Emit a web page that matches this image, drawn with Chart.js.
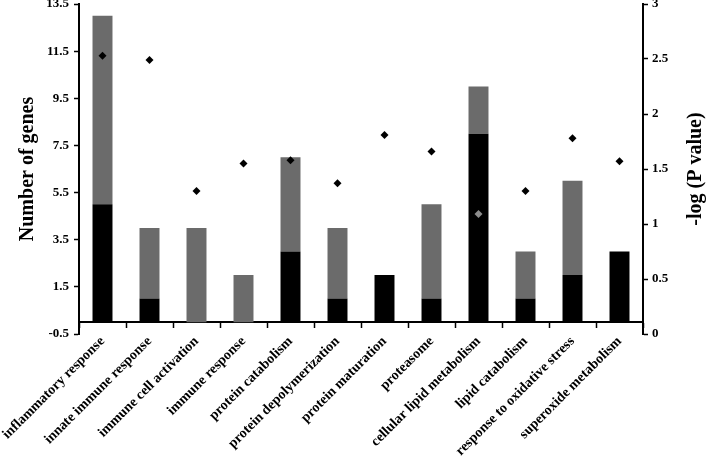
<!DOCTYPE html>
<html>
<head>
<meta charset="utf-8">
<script src="https://cdn.jsdelivr.net/npm/chart.js@4/dist/chart.umd.min.js"></script>
<style>
  html, body { margin: 0; padding: 0; background: #fff; }
  canvas { display: block; }
</style>
</head>
<body>
<canvas id="goChart" width="708" height="462"></canvas>
<script>
// GO terms on the x axis
const categories = [
    "inflammatory response",
    "innate immune response",
    "immune cell activation",
    "immune response",
    "protein catabolism",
    "protein depolymerization",
    "protein maturation",
    "proteasome",
    "cellular lipid metabolism",
    "lipid catabolism",
    "response to oxidative stress",
    "superoxide metabolism"
];

// gene counts, black part (bottom) and grey part (top of the stack)
const blackGenes = [5, 1, 0, 0, 3, 1, 2, 1, 8, 1, 2, 3];
const greyGenes  = [8, 3, 4, 2, 4, 3, 0, 4, 2, 2, 4, 0];

// -log(P value), right axis
const pValues = [2.53, 2.49, 1.30, 1.55, 1.58, 1.37, 1.81, 1.66, 1.09, 1.30, 1.78, 1.57];

// tick labels of the left axis
const leftTicks = [-0.5, 1.5, 3.5, 5.5, 7.5, 9.5, 11.5, 13.5];

const SERIF = "'Liberation Serif', 'Times New Roman', serif";
const greyPointIndex = 8; // the diamond drawn in grey
const rightTitle = "-log (P value)";

const tickFont = { family: SERIF, size: 13, weight: "bold" };

// right axis title reads bottom-to-top like the left one, so draw it ourselves
const rightTitlePlugin = {
    id: "rightTitle",
    afterDraw(chart) {
        const { ctx, chartArea } = chart;
        const y2 = chart.scales.y2;
        ctx.save();
        ctx.translate(y2.right - 12, (chartArea.top + chartArea.bottom) / 2);
        ctx.rotate(-Math.PI / 2);
        ctx.font = "bold 20px " + SERIF;
        ctx.fillStyle = "#000";
        ctx.textAlign = "center";
        ctx.textBaseline = "middle";
        ctx.fillText(rightTitle, 0, 0);
        ctx.restore();
    }
};

const canvas = document.getElementById("goChart");

new Chart(canvas, {
    type: "bar",
    data: {
        labels: categories,
        datasets: [
            {
                type: "line",
                label: rightTitle,
                data: pValues,
                yAxisID: "y2",
                showLine: false,
                pointStyle: "rectRot",
                pointRadius: 4,
                pointBorderWidth: 0,
                pointBackgroundColor: pValues.map((v, i) => i === greyPointIndex ? "#8c8c8c" : "#000"),
                order: 0
            },
            {
                label: "black",
                data: blackGenes,
                backgroundColor: "#000",
                yAxisID: "y",
                stack: "genes",
                order: 1
            },
            {
                label: "grey",
                data: greyGenes,
                backgroundColor: "#6b6b6b",
                yAxisID: "y",
                stack: "genes",
                order: 1
            }
        ]
    },
    options: {
        responsive: false,
        animation: false,
        layout: { padding: { left: 0, right: 0, top: 0, bottom: 128 } },
        datasets: {
            bar: { categoryPercentage: 1, barPercentage: 0.425 }
        },
        plugins: {
            legend: { display: false },
            tooltip: { enabled: false }
        },
        scales: {
            x: {
                stacked: true,
                position: { y: 0 },
                border: { display: true, color: "#000", width: 2 },
                grid: {
                    display: true,
                    offset: true,
                    drawOnChartArea: false,
                    drawTicks: true,
                    tickLength: 5,
                    tickWidth: 1.5,
                    tickColor: "#000"
                },
                ticks: {
                    autoSkip: false,
                    minRotation: 45,
                    maxRotation: 45,
                    padding: 6,
                    color: "#000",
                    font: { family: SERIF, size: 14, weight: "bold" }
                },
                afterFit: s => {
                    s.paddingLeft = 0;
                    s.paddingRight = 0;
                    s.paddingTop = 0;
                    s.paddingBottom = 0;
                }
            },
            y: {
                type: "linear",
                position: "left",
                stacked: true,
                min: -0.5,
                max: 13.5,
                afterBuildTicks: s => { s.ticks = leftTicks.map(v => ({ value: v })); },
                border: { display: true, color: "#000", width: 2 },
                grid: {
                    display: true,
                    drawOnChartArea: false,
                    drawTicks: true,
                    tickLength: 5,
                    tickWidth: 1.5,
                    tickColor: "#000"
                },
                ticks: { color: "#000", padding: 5, font: tickFont },
                title: {
                    display: true,
                    text: "Number of genes",
                    color: "#000",
                    padding: { top: 16, bottom: 0 },
                    font: { family: SERIF, size: 20, weight: "bold" }
                },
                afterFit: s => {
                    s.width = 79;
                    s.paddingTop = 4;
                    s.paddingBottom = 0;
                }
            },
            y2: {
                type: "linear",
                position: "right",
                stacked: false,
                min: 0,
                max: 3,
                ticks: {
                    stepSize: 0.5,
                    color: "#000",
                    padding: 4,
                    font: tickFont,
                    callback: v => String(v)
                },
                border: { display: true, color: "#000", width: 2 },
                grid: {
                    display: true,
                    drawOnChartArea: false,
                    drawTicks: true,
                    tickLength: 5,
                    tickWidth: 1.5,
                    tickColor: "#000"
                },
                afterFit: s => {
                    s.width = 65;
                    s.paddingTop = 4;
                    s.paddingBottom = 0;
                }
            }
        }
    },
    plugins: [rightTitlePlugin]
});
</script>
</body>
</html>
